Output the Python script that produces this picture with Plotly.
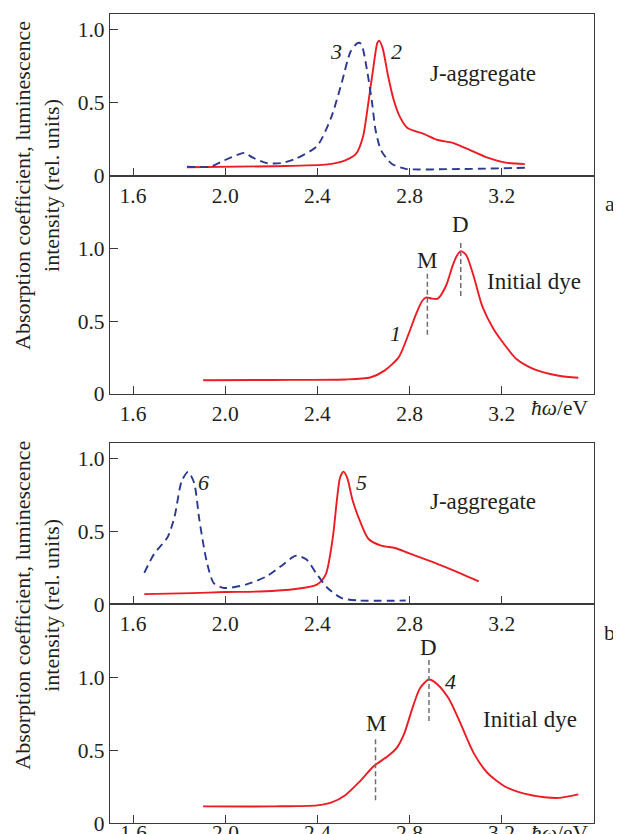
import plotly.graph_objects as go

# ---------------- data (photon energy, eV / relative units) ----------------
# Panel a, lower: initial dye absorption (curve 1)
E1 = [1.904, 2.200, 2.521, 2.629, 2.691, 2.753, 2.791, 2.830, 2.855, 2.872, 2.895,
      2.922, 2.958, 2.987, 3.005, 3.023, 3.046, 3.077, 3.115, 3.162, 3.208, 3.262,
      3.339, 3.447, 3.532]
Y1 = [0.093, 0.095, 0.098, 0.112, 0.159, 0.252, 0.392, 0.556, 0.640, 0.663, 0.655,
      0.654, 0.743, 0.883, 0.950, 0.981, 0.953, 0.813, 0.603, 0.451, 0.346, 0.241,
      0.170, 0.124, 0.110]
# Panel a, upper: J-aggregate absorption (curve 2) and luminescence (curve 3)
E2 = [1.834, 2.212, 2.444, 2.521, 2.568, 2.598, 2.621, 2.642, 2.660, 2.668, 2.683,
      2.706, 2.730, 2.760, 2.791, 2.861, 2.922, 2.984, 3.046, 3.138, 3.216, 3.300]
Y2 = [0.058, 0.065, 0.077, 0.105, 0.151, 0.268, 0.500, 0.732, 0.907, 0.923, 0.872,
      0.686, 0.523, 0.395, 0.326, 0.286, 0.244, 0.226, 0.186, 0.123, 0.089, 0.079]
E3 = [1.834, 1.935, 1.996, 2.058, 2.084, 2.120, 2.181, 2.243, 2.305, 2.398, 2.459,
      2.506, 2.544, 2.575, 2.590, 2.614, 2.637, 2.652, 2.676, 2.722, 2.783, 2.984,
      3.300]
Y3 = [0.062, 0.062, 0.105, 0.146, 0.156, 0.123, 0.086, 0.086, 0.116, 0.202, 0.395,
      0.639, 0.849, 0.907, 0.900, 0.732, 0.500, 0.314, 0.174, 0.082, 0.047, 0.045,
      0.054]
# Panel b, lower: initial dye absorption (curve 4)
E4 = [1.904, 2.212, 2.398, 2.459, 2.521, 2.583, 2.644, 2.706, 2.745, 2.776, 2.814,
      2.845, 2.884, 2.922, 2.969, 3.015, 3.077, 3.138, 3.216, 3.293, 3.385, 3.447,
      3.532]
Y4 = [0.114, 0.114, 0.121, 0.140, 0.191, 0.284, 0.389, 0.459, 0.517, 0.611, 0.797,
      0.925, 0.984, 0.949, 0.855, 0.704, 0.483, 0.343, 0.249, 0.203, 0.177, 0.172,
      0.196]
# Panel b, upper: J-aggregate absorption (curve 5) and luminescence (curve 6)
E5 = [1.649, 1.857, 1.996, 2.151, 2.305, 2.398, 2.436, 2.467, 2.483, 2.498, 2.513,
      2.529, 2.552, 2.583, 2.621, 2.676, 2.737, 2.799, 2.907, 3.015, 3.100]
Y5 = [0.070, 0.077, 0.084, 0.088, 0.105, 0.135, 0.205, 0.460, 0.693, 0.867, 0.909,
      0.867, 0.716, 0.576, 0.449, 0.402, 0.386, 0.349, 0.286, 0.216, 0.158]
E6 = [1.649, 1.691, 1.750, 1.780, 1.811, 1.839, 1.865, 1.888, 1.919, 1.950, 1.996,
      2.089, 2.181, 2.243, 2.305, 2.351, 2.398, 2.444, 2.506, 2.583, 2.783]
Y6 = [0.216, 0.344, 0.460, 0.600, 0.844, 0.907, 0.832, 0.576, 0.298, 0.146, 0.112,
      0.135, 0.193, 0.263, 0.332, 0.309, 0.205, 0.112, 0.042, 0.026, 0.026]

# Monomer (M) and dimer (D) band markers: energy, line bottom, line top, label y
MARK_A = {"M": (2.877, 0.406, 0.848, 0.918), "D": (3.022, 0.673, 1.046, 1.163)}
MARK_B = {"M": (2.652, 0.156, 0.583, 0.681), "D": (2.884, 0.699, 1.128, 1.205)}

# Curve number labels: (text, energy, value)
NUM_A1 = [("3", 2.482, 0.849), ("2", 2.745, 0.849)]
NUM_A2 = [("1", 2.737, 0.416)]
NUM_B1 = [("6", 1.904, 0.832), ("5", 2.591, 0.832)]
NUM_B2 = [("4", 2.976, 0.972)]

X_TICKS = [1.6, 2.0, 2.4, 2.8, 3.2]
X_TICK_TEXT = ["1.6", "2.0", "2.4", "2.8", "3.2"]
Y_TICKS = [0, 0.5, 1.0]
Y_TICK_TEXT = ["0", "0.5", "1.0"]
X_RANGE = [1.5, 3.6]

# ---------------- styling / layout ----------------
PAGE_W = 621
OFF = 8                      # default body margin of the html page
K = 850 / 834                # vertical compensation observed for the photographed page
W, H = PAGE_W - 2 * OFF, 834


def fy(py):
    """target picture y (px) -> figure y (px)"""
    return py * K - OFF


P_LEFT, P_RIGHT = 110, 594.3
F_TOP, F_BOT = fy(13.3), fy(807.3)
L, R = P_LEFT - OFF, W - (P_RIGHT - OFF)
T, B = F_TOP, H - F_BOT
PW, PH = W - L - R, F_BOT - F_TOP

RED = "#ec1c24"
BLUE = "#2b3990"
GRAY = "#6d6e71"
INK = "#231f20"
FONT = "Liberation Serif, Times New Roman, serif"
TICK_SIZE = 21.5


def dom(top_px, bot_px):
    return [(F_BOT - fy(bot_px)) / PH, (F_BOT - fy(top_px)) / PH]


def px_x(px):
    return (px - P_LEFT) / PW


def px_y(py):
    return (F_BOT - fy(py)) / PH


fig = go.Figure()


def curve(x, y, color, dash, ax):
    fig.add_trace(go.Scatter(
        x=x, y=y, mode="lines", xaxis="x" + ax, yaxis="y" + ax,
        line=dict(color=color, width=1.9, dash=dash, shape="spline", smoothing=0.7),
        showlegend=False, hoverinfo="skip"))


curve(E2, Y2, RED, "solid", "")
curve(E3, Y3, BLUE, "8px,5px", "")
curve(E1, Y1, RED, "solid", "2")
curve(E5, Y5, RED, "solid", "3")
curve(E6, Y6, BLUE, "8px,5px", "3")
curve(E4, Y4, RED, "solid", "4")

annotations = []


def ann(text, x, y, ax, size=22, italic=False):
    t = "<i>" + text + "</i>" if italic else text
    annotations.append(dict(text=t, x=x, y=y, xref="x" + ax, yref="y" + ax,
                            xanchor="center", yanchor="middle", showarrow=False,
                            font=dict(family=FONT, size=size, color=INK)))


def pann(text, xpx, ypx, size=22, **kw):
    annotations.append(dict(text=text, x=px_x(xpx), y=px_y(ypx), xref="paper",
                            yref="paper", xanchor="center", yanchor="middle",
                            showarrow=False,
                            font=dict(family=FONT, size=size, color=INK), **kw))


for marks, ax in ((MARK_A, "2"), (MARK_B, "4")):
    for name, (e, y0, y1, yl) in marks.items():
        fig.add_trace(go.Scatter(
            x=[e, e], y=[y0, y1], mode="lines", xaxis="x" + ax, yaxis="y" + ax,
            line=dict(color=GRAY, width=1.5, dash="5px,3px"),
            showlegend=False, hoverinfo="skip"))
        ann(name, e, yl, ax, size=23)

for nums, ax in ((NUM_A1, ""), (NUM_A2, "2"), (NUM_B1, "3"), (NUM_B2, "4")):
    for t, e, v in nums:
        ann(t, e, v, ax, italic=True)

ann("J-aggregate", 3.118, 0.698, "", size=23)
ann("Initial dye", 3.339, 0.771, "2", size=23)
ann("J-aggregate", 3.118, 0.704, "3", size=23)
ann("Initial dye", 3.323, 0.709, "4", size=23)
pann("<i>ħω</i>/eV", 560, 400, size=TICK_SIZE)
pann("<i>ħω</i>/eV", 560, 817, size=TICK_SIZE)

# bottom x-axis tick labels, placed on the x4 axis scale just above the page edge
for v, t in zip(X_TICKS, X_TICK_TEXT):
    annotations.append(dict(text=t, x=v, y=px_y(817), xref="x4", yref="paper",
                            xanchor="center", yanchor="middle", showarrow=False,
                            font=dict(family=FONT, size=TICK_SIZE, color=INK)))

ytitle = "Absorption coefficient, luminescence<br>intensity (rel. units)"
for yc in (182, 594):
    pann(ytitle, 37, yc, size=22, textangle=-90)

pann("a", 610, 199)
pann("b", 610, 620)

axis_common = dict(showline=True, linecolor="#3a3a3a", linewidth=1.3, mirror=True,
                   ticks="inside", tickcolor="#3a3a3a", tickwidth=1.3, ticklen=8,
                   showgrid=False, zeroline=False,
                   tickfont=dict(family=FONT, size=TICK_SIZE, color=INK))

panels = [("", 13.3, 172), ("2", 172, 386), ("3", 434.3, 592.7), ("4", 592.7, 807.3)]
layout = dict(width=W, height=H, paper_bgcolor="white", plot_bgcolor="white",
              margin=dict(l=L, r=R, t=T, b=B, pad=0), annotations=annotations,
              showlegend=False)
for ax, tp, bp in panels:
    top_panel = ax in ("", "3")
    layout["xaxis" + ax] = dict(axis_common, domain=[0, 1], range=X_RANGE,
                                tickvals=X_TICKS, ticktext=X_TICK_TEXT,
                                showticklabels=(ax != "4"),
                                anchor="y" + ax)
    layout["yaxis" + ax] = dict(axis_common, domain=dom(tp, bp),
                                range=[0, 1.105] if top_panel else [0, 1.5],
                                tickvals=Y_TICKS, ticktext=Y_TICK_TEXT,
                                anchor="x" + ax)
fig.update_layout(**layout)
fig.write_html("out.html", config={"displayModeBar": False},
               post_script="document.querySelectorAll('svg.main-svg')"
                           ".forEach(function(s){s.style.overflow='visible';});")
